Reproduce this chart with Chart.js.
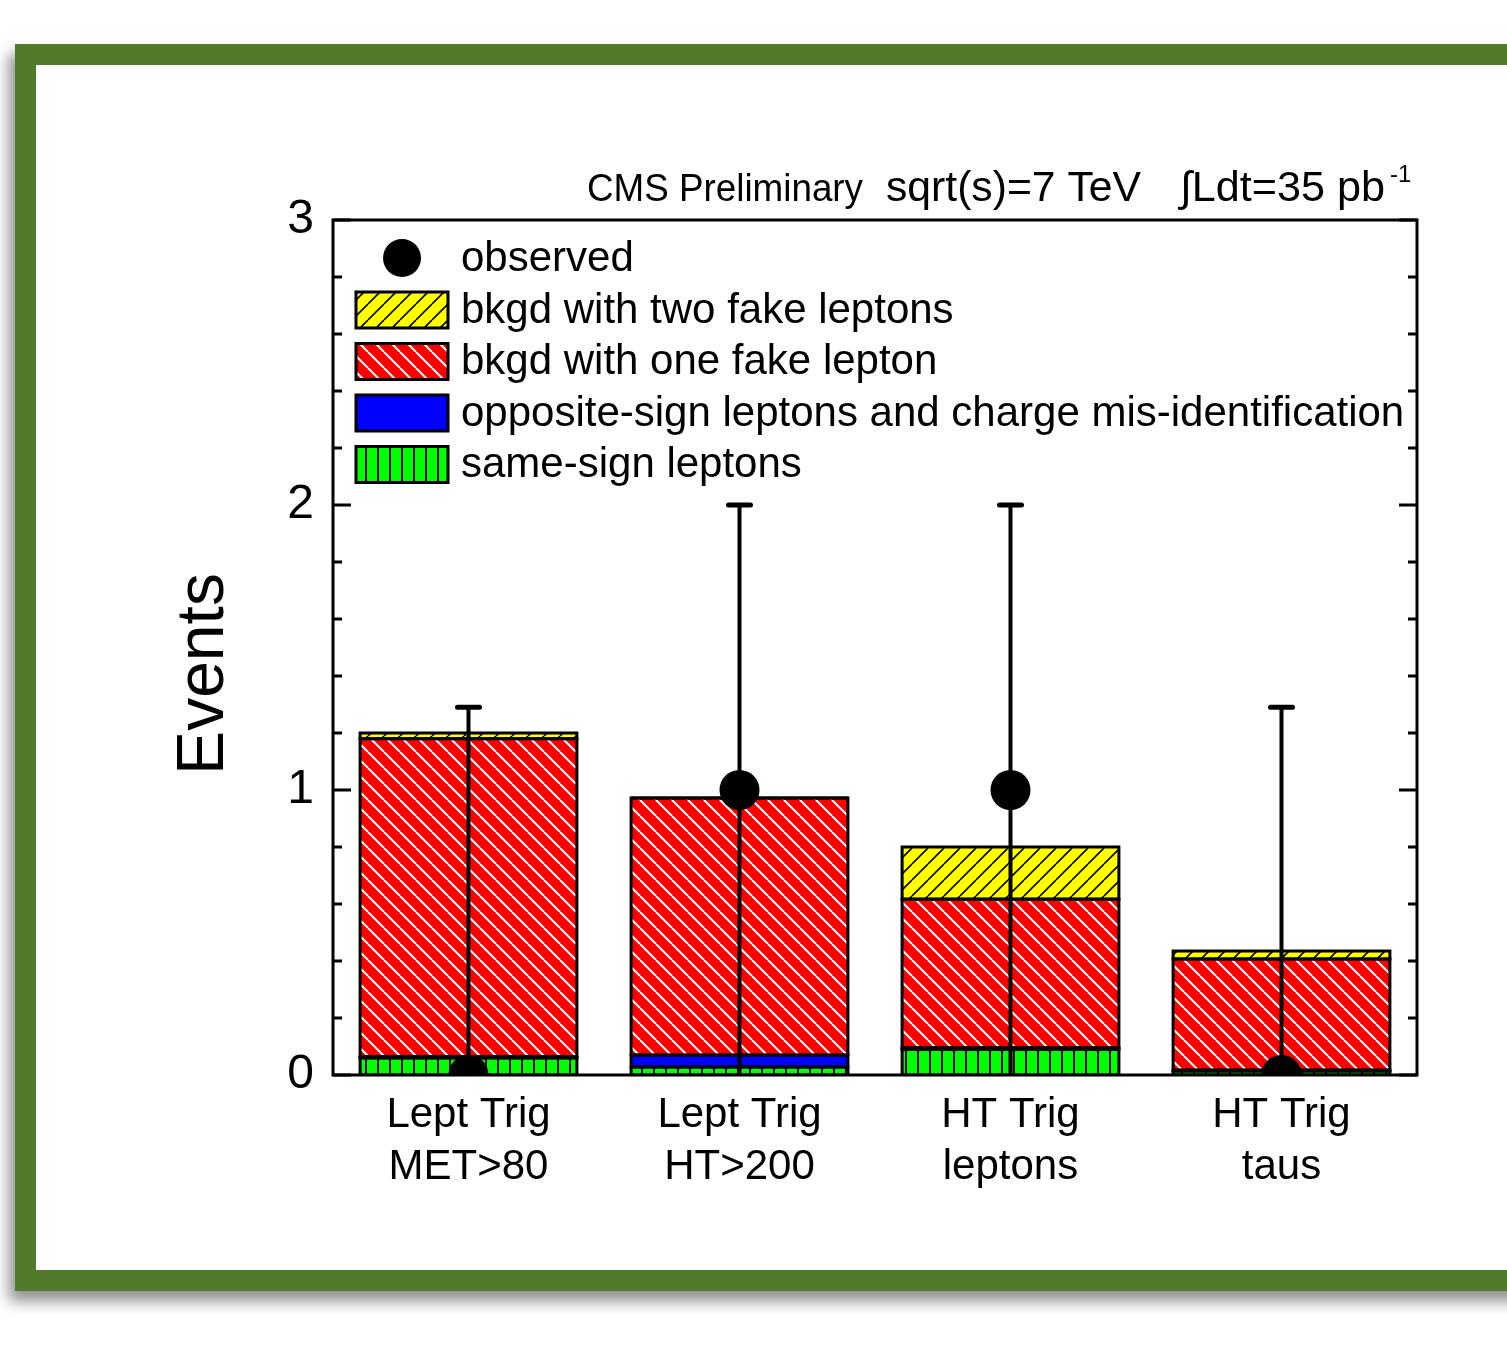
<!DOCTYPE html>
<html>
<head>
<meta charset="utf-8">
<script src="https://cdn.jsdelivr.net/npm/chart.js@4.4.0/dist/chart.umd.min.js"></script>
<style>
  body { margin: 0; background: #fff; width: 1507px; height: 1349px; overflow: hidden; position: relative; }
  #frame {
    position: absolute; left: 15px; top: 44px;
    width: 1520px; height: 1205px;
    border: 21px solid #517b2b; border-right: none;
    background: #fff;
    box-shadow: -6px 10px 14px rgba(0, 0, 0, 0.45);
  }
  #chart { position: absolute; left: 0; top: 0; }
</style>
</head>
<body>
<div id="frame"></div>
<canvas id="chart" width="1507" height="1349"></canvas>
<script>
// Data
const categories = [['Lept Trig', 'MET>80'], ['Lept Trig', 'HT>200'], ['HT Trig', 'leptons'], ['HT Trig', 'taus']];
const sameSign = [0.06, 0.028, 0.09, 0.014];
const oppositeSign = [0.004, 0.042, 0.006, 0.003];
const oneFake = [1.116, 0.902, 0.521, 0.39];
const twoFake = [0.02, 0, 0.183, 0.028];
const observed = [0, 1, 1, 0];
const observedLow = [0, 0, 0, 0];
const observedUp = [1.29, 2, 2, 1.29];
const yMajor = [0, 1, 2, 3];

const FONT = 'Arial, "Liberation Sans", sans-serif';

// hatch patterns
function makeHatch(bg, fg, kind, size, lw) {
    const c = document.createElement('canvas');
    c.width = size;
    c.height = size;
    const g = c.getContext('2d');
    g.fillStyle = bg;
    g.fillRect(0, 0, size, size);
    g.strokeStyle = fg;
    g.lineWidth = lw;
    g.beginPath();
    if (kind === 'vertical') {
        g.moveTo(size / 2, 0);
        g.lineTo(size / 2, size);
    } else {
        for (let k = -1; k <= 1; k++) {
            if (kind === 'up') {
                g.moveTo(k * size, size);
                g.lineTo(k * size + size, 0);
            } else {
                g.moveTo(k * size, 0);
                g.lineTo(k * size + size, size);
            }
        }
    }
    g.stroke();
    return g.createPattern(c, 'repeat');
}

const yellowHatch = makeHatch('#ffff00', '#000', 'up', 16, 1.6);
const redHatch = makeHatch('#ff0000', '#fff', 'down', 16, 2);
const greenHatch = makeHatch('#00ff00', '#000', 'vertical', 12, 2);

// top-of-plot text
const headerPlugin = {
    id: 'header',
    afterDraw(chart) {
        const ctx = chart.ctx;
        ctx.save();
        ctx.fillStyle = '#000';
        ctx.textBaseline = 'alphabetic';
        ctx.textAlign = 'left';
        const parts = [
            ['CMS Preliminary', 587, 276, 38],
            ['sqrt(s)=7 TeV', 886, 255, 42],
            ['\u222BLdt=35 pb', 1180, 205, 42]
        ];
        parts.forEach(p => {
            ctx.font = p[3] + 'px ' + FONT;
            const w = ctx.measureText(p[0]).width;
            ctx.save();
            ctx.translate(p[1], 201);
            ctx.scale(p[2] / w, 1);
            ctx.fillText(p[0], 0, 0);
            ctx.restore();
        });
        ctx.font = '24px ' + FONT;
        ctx.fillText('-1', 1390, 182);

        // y axis title
        ctx.font = '66px ' + FONT;
        ctx.textAlign = 'center';
        ctx.textBaseline = 'middle';
        ctx.translate(205, 674);
        ctx.rotate(-Math.PI / 2);
        ctx.fillText('Events', 0, 0);
        ctx.restore();
    }
};

// plot frame + inward ticks on both sides
const framePlugin = {
    id: 'frame',
    afterDraw(chart) {
        const ctx = chart.ctx;
        const a = chart.chartArea;
        const y = chart.scales.y;
        ctx.save();
        ctx.strokeStyle = '#000';
        ctx.lineWidth = 3;
        y.ticks.forEach(t => {
            const py = y.getPixelForValue(t.value);
            const major = Math.abs(t.value - Math.round(t.value)) < 1e-6;
            const len = major ? 18 : 9;
            ctx.beginPath();
            ctx.moveTo(a.left, py);
            ctx.lineTo(a.left + len, py);
            ctx.moveTo(a.right, py);
            ctx.lineTo(a.right - len, py);
            ctx.stroke();
        });
        ctx.strokeRect(a.left, a.top, a.right - a.left, a.bottom - a.top);
        ctx.restore();
    }
};

// black outlines centred on each stacked segment edge
const outlinePlugin = {
    id: 'outlines',
    beforeDatasetDraw(chart, args) {
        if (args.index !== 4) return;
        const ctx = chart.ctx;
        const a = chart.chartArea;
        ctx.save();
        ctx.beginPath();
        ctx.rect(a.left, a.top, a.right - a.left, a.bottom - a.top);
        ctx.clip();
        ctx.strokeStyle = '#000';
        ctx.lineWidth = 3;
        [0, 1, 2, 3].forEach(di => {
            chart.getDatasetMeta(di).data.forEach(bar => {
                const p = bar.getProps(['x', 'y', 'base', 'width'], true);
                ctx.strokeRect(p.x - p.width / 2, Math.min(p.y, p.base), p.width, Math.abs(p.base - p.y));
            });
        });
        // error bars
        const x = chart.scales.x;
        const y = chart.scales.y;
        ctx.lineWidth = 4;
        ctx.lineCap = 'round';
        observed.forEach((v, i) => {
            const px = x.getPixelForValue(i);
            const top = y.getPixelForValue(observedUp[i]);
            ctx.beginPath();
            ctx.moveTo(px, y.getPixelForValue(observedLow[i]));
            ctx.lineTo(px, top);
            ctx.stroke();
            ctx.lineWidth = 5;
            ctx.beginPath();
            ctx.moveTo(px - 11, top);
            ctx.lineTo(px + 11, top);
            ctx.stroke();
            ctx.lineWidth = 4;
        });
        ctx.restore();
    }
};

// legend inside the plot
const legendOrder = [3, 2, 1, 0];
const boxLegendPlugin = {
    id: 'boxLegend',
    afterDraw(chart) {
        const ctx = chart.ctx;
        const a = chart.chartArea;
        const left = a.left + 23;
        ctx.save();
        ctx.font = '42px ' + FONT;
        ctx.textBaseline = 'middle';
        ctx.textAlign = 'left';
        ctx.fillStyle = '#000';
        ctx.beginPath();
        ctx.arc(left + 46, 258, 19, 0, Math.PI * 2);
        ctx.fill();
        ctx.fillText(chart.data.datasets[4].label, left + 105, 259);
        legendOrder.forEach((di, i) => {
            const ds = chart.data.datasets[di];
            const top = 292 + i * 51.5;
            ctx.fillStyle = ds.backgroundColor;
            ctx.fillRect(left, top, 92, 36);
            ctx.lineWidth = 3;
            ctx.strokeStyle = '#000';
            ctx.strokeRect(left, top, 92, 36);
            ctx.fillStyle = '#000';
            ctx.fillText(ds.label, left + 105, top + 19);
        });
        ctx.restore();
    }
};

function barSet(label, data, color) {
    return {
        type: 'bar',
        label: label,
        data: data,
        backgroundColor: color,
        borderWidth: 0,
        stack: 'bkg',
        order: 1,
        barPercentage: 0.8,
        categoryPercentage: 1.0
    };
}

new Chart(document.getElementById('chart'), {
    data: {
        labels: categories,
        datasets: [
            barSet('same-sign leptons', sameSign, greenHatch),
            barSet('opposite-sign leptons and charge mis-identification', oppositeSign, '#0000ff'),
            barSet('bkgd with one fake lepton', oneFake, redHatch),
            barSet('bkgd with two fake leptons', twoFake, yellowHatch),
            {
                type: 'line',
                label: 'observed',
                data: observed,
                stack: 'obs',
                order: 0,
                showLine: false,
                pointRadius: 20,
                pointHoverRadius: 20,
                pointBackgroundColor: '#000',
                pointBorderColor: '#000',
                pointBorderWidth: 0,
                clip: 0
            }
        ]
    },
    options: {
        responsive: false,
        animation: false,
        devicePixelRatio: 1,
        layout: { padding: { left: 0, right: 90, top: 220, bottom: 0 } },
        plugins: {
            legend: { display: false },
            tooltip: { enabled: false }
        },
        scales: {
            x: {
                stacked: true,
                grid: { display: false, drawTicks: false },
                border: { display: false },
                ticks: {
                    color: '#000',
                    font: { family: FONT, size: 42, lineHeight: 1.24 },
                    padding: 14,
                    maxRotation: 0
                },
                afterFit(scale) { scale.height = 274; }
            },
            y: {
                stacked: true,
                min: 0,
                max: 3,
                grid: { display: false, drawTicks: false },
                border: { display: false },
                ticks: {
                    stepSize: 0.2,
                    autoSkip: false,
                    color: '#000',
                    padding: 19,
                    font: { family: FONT, size: 48 },
                    callback: function (v) {
                        const r = Math.round(v);
                        return (Math.abs(v - r) < 1e-6 && yMajor.includes(r)) ? String(r) : '';
                    }
                },
                afterFit(scale) { scale.width = 333; }
            }
        }
    },
    plugins: [outlinePlugin, framePlugin, boxLegendPlugin, headerPlugin]
});
</script>
</body>
</html>
